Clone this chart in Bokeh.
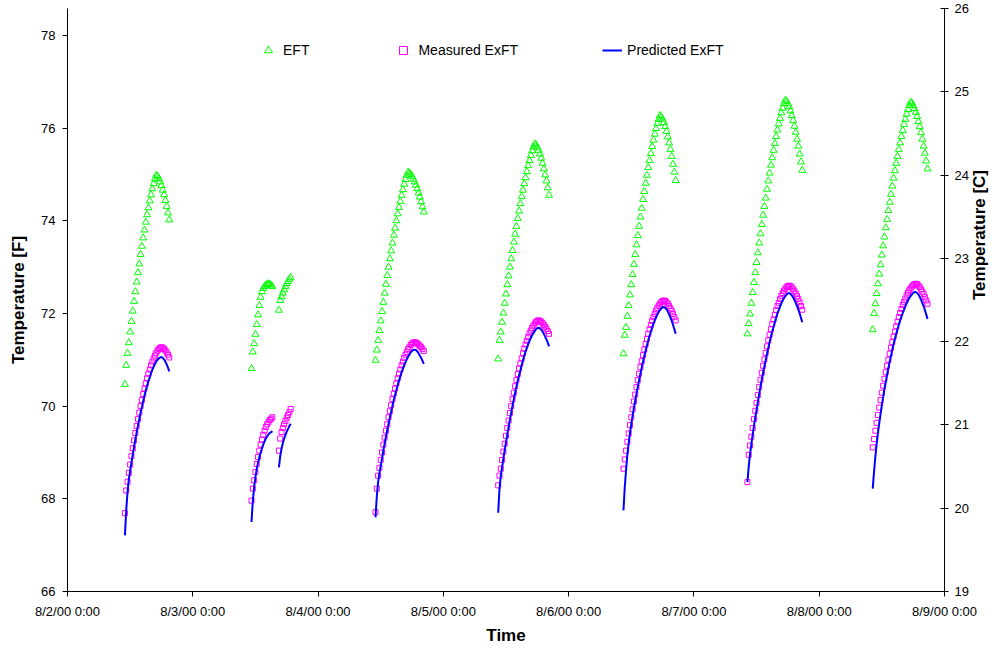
import math
from bokeh.plotting import figure
from bokeh.models import Range1d, LinearAxis, FixedTicker, Legend, LegendItem, Label
from bokeh.embed import file_html
from bokeh.resources import INLINE

# ---------------- data ----------------
tick_labels = ["8/2/00 0:00", "8/3/00 0:00", "8/4/00 0:00", "8/5/00 0:00",
               "8/6/00 0:00", "8/7/00 0:00", "8/8/00 0:00", "8/9/00 0:00"]
left_ticks = [66, 68, 70, 72, 74, 76, 78]
right_ticks = [19, 20, 21, 22, 23, 24, 25, 26]

# each logged segment: day index after 8/2/00 and first sample hour, 15-minute samples
seg_day = [0, 1, 1, 2, 3, 4, 5, 6]
seg_start_hour = [11.0, 11.25, 16.5, 11.0, 10.5, 10.5, 10.25, 10.25]
sample_step_hours = 0.25

eft = [
    [70.47, 70.88, 71.14, 71.37, 71.60, 71.83, 72.05, 72.26, 72.47, 72.68, 72.88, 73.07, 73.27, 73.45, 73.63, 73.80, 73.97, 74.13, 74.28, 74.43, 74.56, 74.69, 74.80, 74.90, 74.98, 74.96, 74.91, 74.84, 74.76, 74.66, 74.56, 74.44, 74.31, 74.17, 74.02],
    [70.81, 71.17, 71.35, 71.55, 71.76, 71.97, 72.17, 72.35, 72.47, 72.54, 72.58, 72.61, 72.63, 72.64, 72.63, 72.61, 72.58],
    [72.07, 72.28, 72.36, 72.44, 72.51, 72.58, 72.64, 72.69, 72.74, 72.78],
    [70.99, 71.21, 71.42, 71.63, 71.84, 72.04, 72.24, 72.44, 72.63, 72.82, 73.00, 73.18, 73.35, 73.52, 73.69, 73.84, 74.00, 74.15, 74.29, 74.42, 74.55, 74.67, 74.79, 74.89, 74.98, 75.05, 75.03, 75.00, 74.96, 74.90, 74.84, 74.77, 74.69, 74.60, 74.51, 74.41, 74.30, 74.19],
    [71.02, 71.42, 71.60, 71.81, 72.01, 72.22, 72.42, 72.62, 72.81, 73.00, 73.18, 73.36, 73.54, 73.71, 73.88, 74.05, 74.21, 74.37, 74.52, 74.66, 74.80, 74.93, 75.06, 75.19, 75.30, 75.41, 75.51, 75.59, 75.66, 75.64, 75.59, 75.52, 75.44, 75.35, 75.24, 75.12, 74.99, 74.86, 74.71, 74.55],
    [71.13, 71.53, 71.70, 71.94, 72.17, 72.40, 72.62, 72.84, 73.06, 73.27, 73.48, 73.68, 73.88, 74.08, 74.27, 74.46, 74.63, 74.81, 74.98, 75.15, 75.30, 75.45, 75.60, 75.74, 75.87, 75.99, 76.10, 76.19, 76.27, 76.24, 76.19, 76.12, 76.03, 75.93, 75.81, 75.68, 75.54, 75.39, 75.22, 75.05, 74.87],
    [71.56, 71.78, 71.99, 72.22, 72.45, 72.67, 72.88, 73.10, 73.31, 73.52, 73.72, 73.92, 74.12, 74.31, 74.49, 74.68, 74.86, 75.03, 75.20, 75.36, 75.52, 75.67, 75.82, 75.96, 76.09, 76.21, 76.33, 76.43, 76.53, 76.60, 76.58, 76.52, 76.46, 76.37, 76.27, 76.16, 76.04, 75.91, 75.76, 75.61, 75.44, 75.27, 75.09],
    [71.65, 72.00, 72.21, 72.43, 72.64, 72.85, 73.05, 73.26, 73.46, 73.65, 73.85, 74.03, 74.22, 74.40, 74.57, 74.75, 74.92, 75.08, 75.24, 75.39, 75.54, 75.68, 75.82, 75.95, 76.08, 76.19, 76.30, 76.40, 76.49, 76.56, 76.54, 76.49, 76.42, 76.34, 76.25, 76.14, 76.03, 75.90, 75.76, 75.61, 75.46, 75.29, 75.12],
]

measured_exft = [
    [67.69, 68.18, 68.37, 68.56, 68.74, 68.92, 69.09, 69.26, 69.42, 69.57, 69.72, 69.86, 70.00, 70.13, 70.26, 70.38, 70.49, 70.60, 70.70, 70.79, 70.88, 70.96, 71.03, 71.09, 71.15, 71.20, 71.23, 71.26, 71.27, 71.26, 71.23, 71.20, 71.16, 71.11, 71.05],
    [67.96, 68.22, 68.40, 68.58, 68.75, 68.90, 69.04, 69.17, 69.28, 69.38, 69.47, 69.55, 69.61, 69.66, 69.70, 69.73, 69.76],
    [69.04, 69.30, 69.44, 69.53, 69.61, 69.68, 69.75, 69.81, 69.87, 69.94],
    [67.71, 68.22, 68.50, 68.67, 68.84, 69.00, 69.17, 69.32, 69.47, 69.61, 69.76, 69.89, 70.02, 70.15, 70.27, 70.38, 70.49, 70.60, 70.70, 70.79, 70.88, 70.96, 71.04, 71.11, 71.17, 71.23, 71.27, 71.32, 71.35, 71.37, 71.38, 71.37, 71.35, 71.33, 71.30, 71.27, 71.23, 71.19],
    [68.29, 68.50, 68.65, 68.84, 69.02, 69.19, 69.36, 69.53, 69.69, 69.85, 70.00, 70.15, 70.29, 70.43, 70.56, 70.69, 70.81, 70.92, 71.03, 71.14, 71.24, 71.33, 71.41, 71.49, 71.57, 71.63, 71.69, 71.74, 71.78, 71.82, 71.84, 71.85, 71.84, 71.82, 71.79, 71.75, 71.71, 71.67, 71.62, 71.56],
    [68.65, 68.85, 69.04, 69.23, 69.41, 69.59, 69.76, 69.93, 70.10, 70.25, 70.41, 70.56, 70.70, 70.84, 70.97, 71.10, 71.22, 71.34, 71.45, 71.56, 71.66, 71.75, 71.84, 71.92, 71.99, 72.06, 72.12, 72.17, 72.21, 72.25, 72.27, 72.28, 72.27, 72.24, 72.21, 72.16, 72.11, 72.06, 71.99, 71.92, 71.85],
    [68.36, 68.95, 69.15, 69.34, 69.53, 69.72, 69.90, 70.07, 70.24, 70.41, 70.57, 70.72, 70.87, 71.01, 71.15, 71.29, 71.42, 71.54, 71.66, 71.77, 71.87, 71.97, 72.07, 72.16, 72.23, 72.31, 72.38, 72.44, 72.49, 72.53, 72.57, 72.59, 72.60, 72.59, 72.56, 72.52, 72.48, 72.43, 72.37, 72.31, 72.24, 72.16, 72.08],
    [69.11, 69.29, 69.47, 69.64, 69.81, 69.97, 70.13, 70.29, 70.44, 70.59, 70.73, 70.87, 71.00, 71.13, 71.26, 71.38, 71.50, 71.61, 71.72, 71.82, 71.92, 72.01, 72.10, 72.18, 72.25, 72.32, 72.39, 72.45, 72.50, 72.54, 72.58, 72.61, 72.63, 72.64, 72.63, 72.60, 72.57, 72.52, 72.47, 72.42, 72.35, 72.28, 72.21],
]

predicted_exft = [
    [67.21, 67.75, 68.15, 68.42, 68.60, 68.78, 68.95, 69.12, 69.28, 69.43, 69.58, 69.72, 69.86, 69.98, 70.11, 70.23, 70.34, 70.44, 70.54, 70.62, 70.71, 70.78, 70.85, 70.91, 70.96, 71.00, 71.03, 71.05, 71.06, 71.04, 71.01, 70.96, 70.90, 70.83, 70.75],
    [67.50, 67.95, 68.25, 68.47, 68.64, 68.78, 68.90, 69.00, 69.09, 69.17, 69.24, 69.30, 69.35, 69.39, 69.42, 69.44, 69.46],
    [68.68, 68.92, 69.08, 69.20, 69.30, 69.38, 69.45, 69.51, 69.57, 69.62],
    [67.60, 68.05, 68.36, 68.55, 68.71, 68.87, 69.04, 69.19, 69.34, 69.48, 69.62, 69.75, 69.88, 70.01, 70.13, 70.24, 70.35, 70.45, 70.55, 70.64, 70.73, 70.81, 70.88, 70.95, 71.01, 71.07, 71.11, 71.16, 71.19, 71.21, 71.22, 71.21, 71.18, 71.14, 71.09, 71.04, 70.98, 70.91],
    [67.70, 68.20, 68.50, 68.68, 68.87, 69.05, 69.22, 69.39, 69.55, 69.71, 69.86, 70.01, 70.15, 70.29, 70.42, 70.55, 70.66, 70.77, 70.88, 70.99, 71.09, 71.18, 71.26, 71.34, 71.41, 71.47, 71.53, 71.58, 71.62, 71.66, 71.68, 71.69, 71.68, 71.65, 71.61, 71.56, 71.50, 71.44, 71.37, 71.29],
    [67.75, 68.25, 68.62, 68.95, 69.20, 69.42, 69.61, 69.79, 69.96, 70.11, 70.27, 70.42, 70.56, 70.70, 70.83, 70.96, 71.08, 71.20, 71.31, 71.42, 71.52, 71.61, 71.70, 71.78, 71.85, 71.92, 71.98, 72.03, 72.07, 72.11, 72.13, 72.14, 72.12, 72.09, 72.04, 71.98, 71.91, 71.84, 71.75, 71.66, 71.56],
    [68.36, 68.70, 68.97, 69.18, 69.38, 69.57, 69.75, 69.92, 70.09, 70.26, 70.42, 70.57, 70.72, 70.86, 70.99, 71.13, 71.26, 71.38, 71.50, 71.61, 71.71, 71.81, 71.91, 72.00, 72.07, 72.15, 72.22, 72.28, 72.33, 72.37, 72.41, 72.43, 72.44, 72.42, 72.39, 72.35, 72.29, 72.23, 72.16, 72.08, 72.00, 71.91, 71.81],
    [68.22, 68.58, 68.90, 69.18, 69.42, 69.63, 69.83, 70.02, 70.20, 70.37, 70.53, 70.68, 70.82, 70.96, 71.09, 71.22, 71.34, 71.45, 71.56, 71.66, 71.76, 71.85, 71.93, 72.01, 72.08, 72.15, 72.22, 72.28, 72.33, 72.37, 72.41, 72.44, 72.46, 72.46, 72.44, 72.41, 72.36, 72.30, 72.23, 72.16, 72.07, 71.98, 71.88],
]


def seg_times(k, n):
    return [seg_day[k] + (seg_start_hour[k] + sample_step_hours * i) / 24.0 for i in range(n)]


eft_x, eft_y, mea_x, mea_y = [], [], [], []
pred_xs, pred_ys = [], []
for k in range(len(seg_day)):
    eft_x += seg_times(k, len(eft[k]))
    eft_y += eft[k]
    mea_x += seg_times(k, len(measured_exft[k]))
    mea_y += measured_exft[k]
    pred_xs.append(seg_times(k, len(predicted_exft[k])))
    pred_ys.append(predicted_exft[k])

FONT = "Liberation Sans"

p = figure(width=1001, height=649, output_backend="svg", toolbar_location=None,
           x_range=Range1d(0, 7), y_range=Range1d(66, 78.58),
           min_border_left=67, min_border_right=56, min_border_top=8, min_border_bottom=58)
p.outline_line_color = None
p.xgrid.visible = False
p.ygrid.visible = False
p.background_fill_color = "white"

p.extra_y_ranges = {"c": Range1d(19, 26.001)}

# bottom axis
xa = p.xaxis[0]
xa.ticker = FixedTicker(ticks=list(range(len(tick_labels))))
xa.major_label_overrides = {i: lab for i, lab in enumerate(tick_labels)}
xa.axis_label = "Time"

# left axis
ya = p.yaxis[0]
ya.ticker = FixedTicker(ticks=left_ticks)
ya.axis_label = "Temperature [F]"

# right axis
ra = LinearAxis(y_range_name="c", ticker=FixedTicker(ticks=right_ticks),
                axis_label="Temperature [C]")
p.add_layout(ra, "right")

for ax in (xa, ya, ra):
    ax.minor_tick_line_color = None
    ax.axis_line_color = "black"
    ax.major_tick_line_color = "black"
    ax.major_label_text_font = FONT
    ax.major_label_text_font_size = "13px"
    ax.major_label_text_color = "black"
    ax.axis_label_text_font = FONT
    ax.axis_label_text_font_size = "17px"
    ax.axis_label_text_font_style = "bold"
    ax.axis_label_text_color = "black"

xa.major_tick_in = 0
xa.major_tick_out = 5
xa.major_label_standoff = 7
xa.axis_label_standoff = 4

ya.major_tick_in = 0
ya.major_tick_out = 5
ya.major_label_standoff = 7
ya.axis_label_standoff = 10

ra.major_tick_in = 4
ra.major_tick_out = 4
ra.major_label_standoff = 6
ra.axis_label_standoff = 8

# the right-hand title reads bottom-to-top like the left one
try:
    ra.axis_label_orientation = math.pi / 2
except Exception:
    pass

r_eft = p.scatter(eft_x, eft_y, marker="triangle", size=7, fill_color=None,
                  line_color="#00FF00", line_width=1)
r_mea = p.scatter(mea_x, mea_y, marker="square", size=5, fill_color=None,
                  line_color="#FF00FF", line_width=1)
r_pred = p.multi_line(pred_xs, pred_ys, line_color="#0000FF", line_width=2)

legend = Legend(items=[LegendItem(label="EFT", renderers=[r_eft]),
                       LegendItem(label="Measured ExFT", renderers=[r_mea]),
                       LegendItem(label="Predicted ExFT", renderers=[r_pred])],
                orientation="horizontal", location=(191, 531), spacing=84,
                padding=0, margin=0, border_line_color=None, background_fill_alpha=0,
                label_text_font=FONT, label_text_font_size="14px", label_text_color="black",
                glyph_width=20, glyph_height=20, label_standoff=5)
p.add_layout(legend)

open("out.html", "w").write(file_html(p, INLINE))
